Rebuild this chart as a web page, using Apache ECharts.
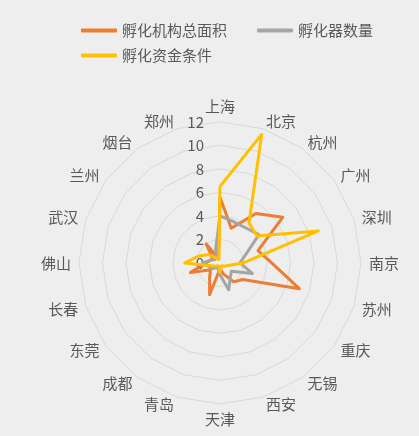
<!DOCTYPE html>
<html>
<head>
<meta charset="utf-8">
<script src="https://cdn.jsdelivr.net/npm/echarts@6/dist/echarts.min.js"></script>
<style>
html,body{margin:0;padding:0;background:#eeeeee;}
#c{width:419px;height:436px;}
</style>
</head>
<body>
<div id="c"></div>
<script>
const cities = ['上海','北京','杭州','广州','深圳','南京','苏州','重庆','无锡','西安','天津','青岛','成都','东莞','长春','佛山','武汉','兰州','烟台','郑州'];
const seriesNames = ['孵化机构总面积','孵化器数量','孵化资金条件'];
const areaValues  = [5.6, 3.1, 5.2, 6.6, 3.4, 4.4, 7.1, 2.4, 2.0, 1.0, 0.5, 2.85, 1.5, 1.0, 2.65, 1.2, 0.8, 0.8, 2.0, 0.4];
const countValues = [4.0, 3.7, 3.7, 4.1, 2.3, 1.7, 2.9, 1.2, 1.5, 2.4, 1.0, 0.5, 0.5, 0.8, 1.0, 1.5, 0.8, 0.5, 0.5, 1.2];
const fundValues  = [6.5, 11.5, 4.2, 3.9, 8.8, 2.0, 0.7, 0.5, 0.3, 0.3, 0.8, 0.3, 0.3, 0.5, 0.8, 3.0, 1.9, 1.2, 0.5, 0.3];
const tickMax = 12, tickStep = 2;

// ECharts lays radar indicators counter-clockwise; reorder so they run clockwise
const cw = arr => [arr[0]].concat(arr.slice(1).reverse());

const colors = ['#ED7D31','#A5A5A5','#FFC000'];
const textColor = '#595959';
const fontFamily = '"Noto Sans CJK SC", "Noto Sans", sans-serif';
const center = ['52.5%','60.3%'];
const radius = 141;

const chart = echarts.init(document.getElementById('c'));
chart.setOption({
  backgroundColor: '#eeeeee',
  color: colors,
  textStyle: {fontFamily: fontFamily},
  legend: [
    {data: seriesNames.slice(0,2), left: 76, top: 18, itemWidth: 36, itemHeight: 4, itemGap: 30, icon: 'roundRect',
     textStyle: {color: textColor, fontSize: 15, fontFamily: fontFamily}},
    {data: seriesNames.slice(2), left: 76, top: 43, itemWidth: 36, itemHeight: 4, itemGap: 30, icon: 'roundRect',
     textStyle: {color: textColor, fontSize: 15, fontFamily: fontFamily}}
  ],
  radar: {
    center: center,
    radius: radius,
    startAngle: 90,
    shape: 'polygon',
    splitNumber: tickMax / tickStep,
    indicator: cw(cities).map(n => ({name: n, min: 0, max: tickMax})),
    axisName: {color: textColor, fontSize: 15, fontFamily: fontFamily},
    nameGap: 8,
    axisLine: {show: false},
    axisTick: {show: false},
    axisLabel: {show: false},
    splitArea: {show: false},
    splitLine: {lineStyle: {color: '#d9d9d9', width: 1}}
  },
  polar: {center: center, radius: radius},
  angleAxis: {show: false, startAngle: 90, min: 0, max: 360},
  radiusAxis: {
    min: 0, max: tickMax, interval: tickStep,
    axisLine: {show: false}, axisTick: {show: false}, splitLine: {show: false},
    axisLabel: {color: textColor, fontSize: 15, fontFamily: fontFamily, margin: 16}
  },
  series: [{
    type: 'radar',
    symbol: 'none',
    lineStyle: {width: 3},
    data: [
      {name: seriesNames[0], value: cw(areaValues), lineStyle: {color: colors[0], width: 3}, itemStyle: {color: colors[0]}},
      {name: seriesNames[1], value: cw(countValues), lineStyle: {color: colors[1], width: 3}, itemStyle: {color: colors[1]}},
      {name: seriesNames[2], value: cw(fundValues), lineStyle: {color: colors[2], width: 3}, itemStyle: {color: colors[2]}}
    ]
  }]
});
</script>
</body>
</html>
